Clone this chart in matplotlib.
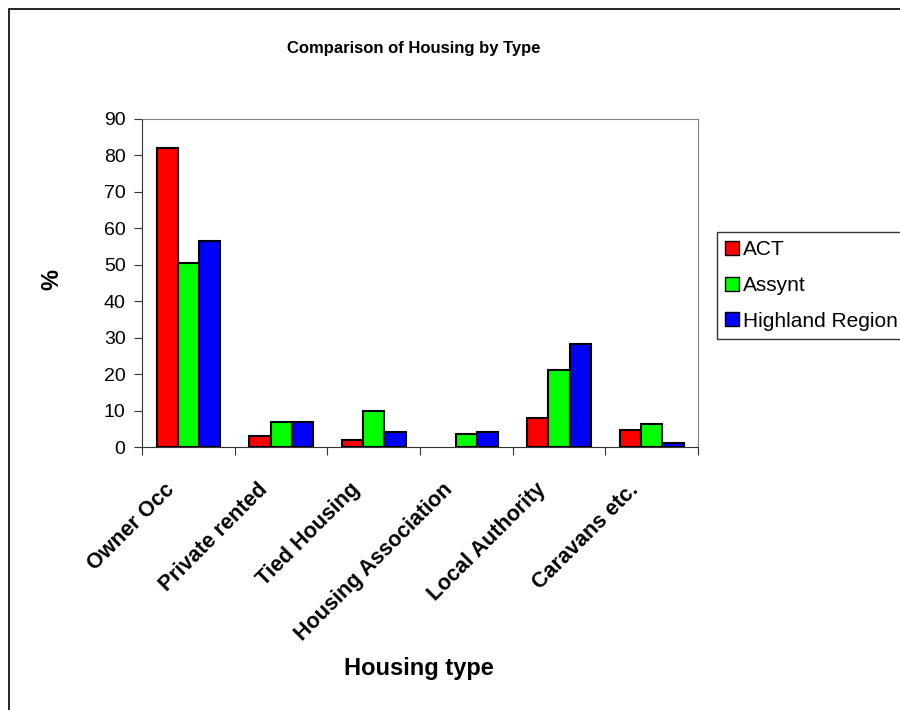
import numpy as np
import matplotlib as mpl
mpl.use('Agg')
import matplotlib.pyplot as plt  # NOQA
from matplotlib.patches import Rectangle
from matplotlib.transforms import ScaledTranslation, blended_transform_factory

plt.rcParams['font.family'] = ['Liberation Sans', 'DejaVu Sans']

categories = ['Owner Occ', 'Private rented', 'Tied Housing',
              'Housing Association', 'Local Authority', 'Caravans etc.']
series_names = ['ACT', 'Assynt', 'Highland Region']
act = [82, 3, 2, 0, 8, 4.8]
assynt = [50.5, 6.8, 10, 3.6, 21.2, 6.2]
highland = [56.5, 6.8, 4.2, 4.2, 28.2, 1.1]
colors = ['#ff0000', '#00ff00', '#0000ff']

fig = plt.figure(figsize=(9, 7.1), dpi=100)
fig.patches.append(Rectangle((9 / 900, -0.01), 1.0, 1 - 9 / 710 + 0.01,
                             transform=fig.transFigure, fill=False,
                             edgecolor='black', linewidth=1.2))
ax = fig.add_axes([0.158, 0.3704, 0.6176, 0.462])

x = np.arange(len(categories))
w = 0.23
for i, (vals, name) in enumerate(zip([act, assynt, highland], series_names)):
    bars = ax.bar(x + (i - 1) * w, vals, w, color=colors[i],
                  edgecolor='black', linewidth=1.5, label=name, zorder=3)
    for b, v in zip(bars, vals):
        if v == 0:
            b.set_visible(False)

ax.set_xlim(-0.5, len(categories) - 0.5)
ax.set_ylim(0, 90)
ax.set_yticks(range(0, 91, 10))
ax.set_yticklabels([str(v) for v in range(0, 91, 10)], fontsize=14)
ax.set_xticks(np.arange(len(categories) + 1) - 0.5)
ax.set_xticklabels([])
ax.tick_params(axis='x', length=6, direction='out', color='#333333')
ax.tick_params(axis='y', length=6, direction='out', color='#333333',
               pad=6)

# category labels, rotated like the spreadsheet original
trans = blended_transform_factory(ax.transData, ax.transAxes) + \
    ScaledTranslation(-24 / 100, -32 / 100, fig.dpi_scale_trans)
for xi, cat in zip(x, categories):
    ax.text(xi, 0, cat, transform=trans, rotation=45, ha='right', va='top',
            rotation_mode='anchor', fontsize=15.5, fontweight='bold')

for s in ['top', 'right']:
    ax.spines[s].set_color('#808080')
for s in ['left', 'bottom']:
    ax.spines[s].set_color('#333333')

fig.text(52 / 900, 1 - 280 / 710, '%', fontsize=17, fontweight='bold',
         rotation=90, ha='center', va='center')
fig.text(419 / 900, 1 - 668 / 710, 'Housing type', fontsize=17,
         fontweight='bold', ha='center', va='center')
fig.text(0.46, 0.925, 'Comparison of Housing by Type', fontsize=12,
         fontweight='bold', ha='center')

leg = ax.legend(loc='upper left', bbox_to_anchor=(717 / 900, 1 - 232 / 710),
                bbox_transform=fig.transFigure,
                fontsize=15, frameon=True, fancybox=False,
                edgecolor='black', handlelength=0.65, handleheight=0.65,
                handletextpad=0.2, borderaxespad=0, labelspacing=0.8,
                borderpad=0.4)
leg.get_frame().set_linewidth(1.0)
for h in leg.legend_handles:
    h.set_linewidth(1.0)

fig.savefig('out.png', dpi=100)
